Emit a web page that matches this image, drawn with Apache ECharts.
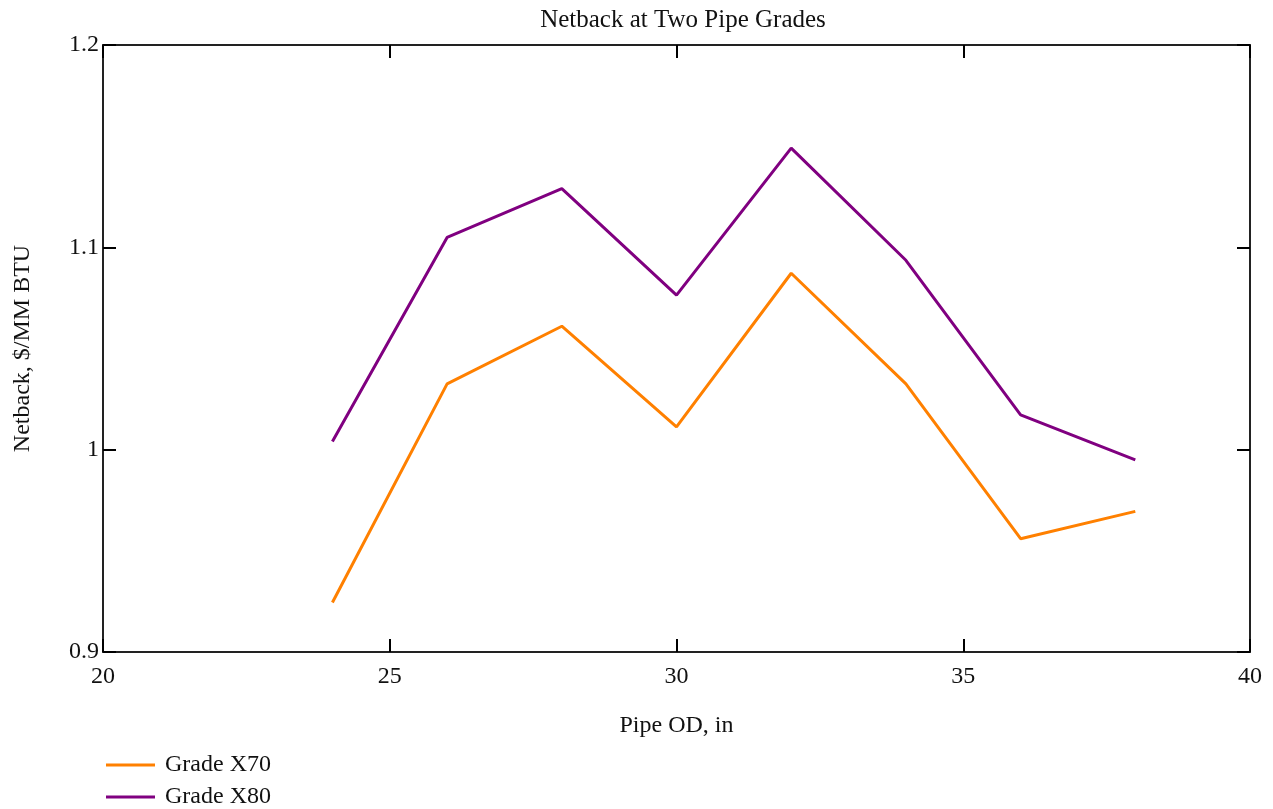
<!DOCTYPE html>
<html>
<head>
<meta charset="utf-8">
<script src="https://cdn.jsdelivr.net/npm/echarts@6/dist/echarts.min.js"></script>
<style>
  html, body { margin: 0; padding: 0; background: #fff; }
  #chart { width: 1273px; height: 809px; }
</style>
</head>
<body>
<div id="chart"></div>
<script>
  // pipe outer diameter, inches
  const pipeOD = [24, 26, 28, 30, 32, 34, 36, 38]
  // netback, $/MM BTU
  const gradeX70 = [0.9245, 1.0325, 1.061, 1.0113, 1.0872, 1.0325, 0.956, 0.9695]
  const gradeX80 = [1.004, 1.1049, 1.129, 1.0764, 1.149, 1.0936, 1.0172, 0.995]
  const seriesNames = ['Grade X70', 'Grade X80']

  const font = 'Liberation Serif, Times New Roman, serif'
  const textColor = '#111'
  const lineColor = '#222'

  const chart = echarts.init(document.getElementById('chart'))

  const pair = (xs, ys) => xs.map((x, i) => [x, ys[i]])

  const tick = { show: true, inside: true, length: 13, lineStyle: { color: '#000', width: 2 } }
  const axisLine = { show: true, onZero: false, lineStyle: { color: lineColor, width: 2 } }

  chart.setOption({
    animation: false,
    textStyle: { fontFamily: font, color: textColor },
    title: {
      text: 'Netback at Two Pipe Grades',
      left: 678,
      textAlign: 'center',
      top: 3,
      textStyle: { fontFamily: font, fontWeight: 'normal', fontSize: 25, color: textColor }
    },
    grid: { left: 103, right: 23, top: 45, bottom: 157 },
    legend: {
      orient: 'vertical',
      left: 106,
      top: 753,
      padding: 0,
      itemWidth: 49,
      itemHeight: 3,
      itemGap: 8,
      icon: 'rect',
      textStyle: { fontFamily: font, fontSize: 24, color: textColor, padding: [0, 0, 0, 5] },
      data: seriesNames
    },
    xAxis: [
      {
        type: 'value', min: 20, max: 40, interval: 5,
        name: 'Pipe OD, in', nameLocation: 'middle', nameGap: 62,
        nameTextStyle: { fontFamily: font, fontSize: 24, color: textColor },
        axisLine, axisTick: tick, splitLine: { show: false },
        axisLabel: { fontFamily: font, fontSize: 24, color: textColor, margin: 13 }
      },
      {
        type: 'value', position: 'top', min: 20, max: 40, interval: 5,
        axisLine, axisTick: tick, splitLine: { show: false }, axisLabel: { show: false }
      }
    ],
    yAxis: [
      {
        type: 'value', min: 0.9, max: 1.2, interval: 0.1,
        name: 'Netback, $/MM BTU', nameLocation: 'middle', nameGap: 68,
        nameTextStyle: { fontFamily: font, fontSize: 24, color: textColor },
        axisLine, axisTick: tick, splitLine: { show: false },
        axisLabel: {
          fontFamily: font, fontSize: 24, color: textColor, margin: 4,
          formatter: v => String(Math.round(v * 10) / 10)
        }
      },
      {
        type: 'value', position: 'right', min: 0.9, max: 1.2, interval: 0.1,
        axisLine, axisTick: tick, splitLine: { show: false }, axisLabel: { show: false }
      }
    ],
    series: [
      {
        name: seriesNames[0], type: 'line', data: pair(pipeOD, gradeX70),
        showSymbol: false, color: '#ff8000', lineStyle: { width: 3, color: '#ff8000' }
      },
      {
        name: seriesNames[1], type: 'line', data: pair(pipeOD, gradeX80),
        showSymbol: false, color: '#800080', lineStyle: { width: 3, color: '#800080' }
      }
    ]
  })
</script>
</body>
</html>
